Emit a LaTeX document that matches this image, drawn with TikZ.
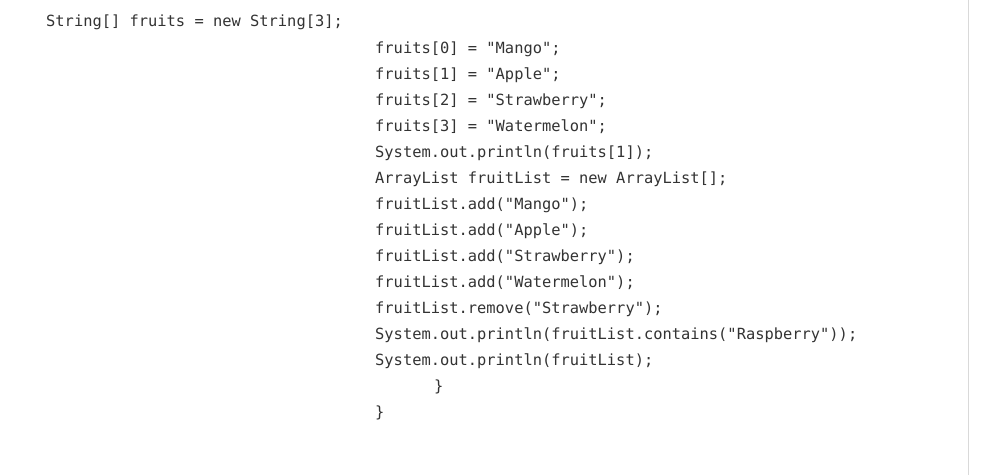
\documentclass[tikz,border=0pt]{standalone}
\usepackage{fontspec}
\setmonofont{DejaVu Sans Mono}
\begin{document}
\begin{tikzpicture}[x=1pt,y=-1pt,
  code/.style={anchor=west,inner sep=0pt,text=black!80,font=\ttfamily\fontsize{15.4}{18}\selectfont}]
\useasboundingbox[fill=white] (0,0) rectangle (986,475);
\draw[black!15,line width=1pt] (968,0) -- (968,475);
\node[code] (l0) at (46,22) {String[] fruits = new String[3];};
\foreach \t [count=\i] in {
 {fruits[0] = "Mango";},
 {fruits[1] = "Apple";},
 {fruits[2] = "Strawberry";},
 {fruits[3] = "Watermelon";},
 {System.out.println(fruits[1]);},
 {ArrayList fruitList = new ArrayList[];},
 {fruitList.add("Mango");},
 {fruitList.add("Apple");},
 {fruitList.add("Strawberry");},
 {fruitList.add("Watermelon");},
 {fruitList.remove("Strawberry");},
 {System.out.println(fruitList.contains("Raspberry"));},
 {System.out.println(fruitList);}}
 \node[code] (l\i) at (375,{23+26*\i}) {\t};
\node[code] (b1) at (434,387) {\}};
\node[code] (b2) at (375,413) {\}};
\end{tikzpicture}
\end{document}
